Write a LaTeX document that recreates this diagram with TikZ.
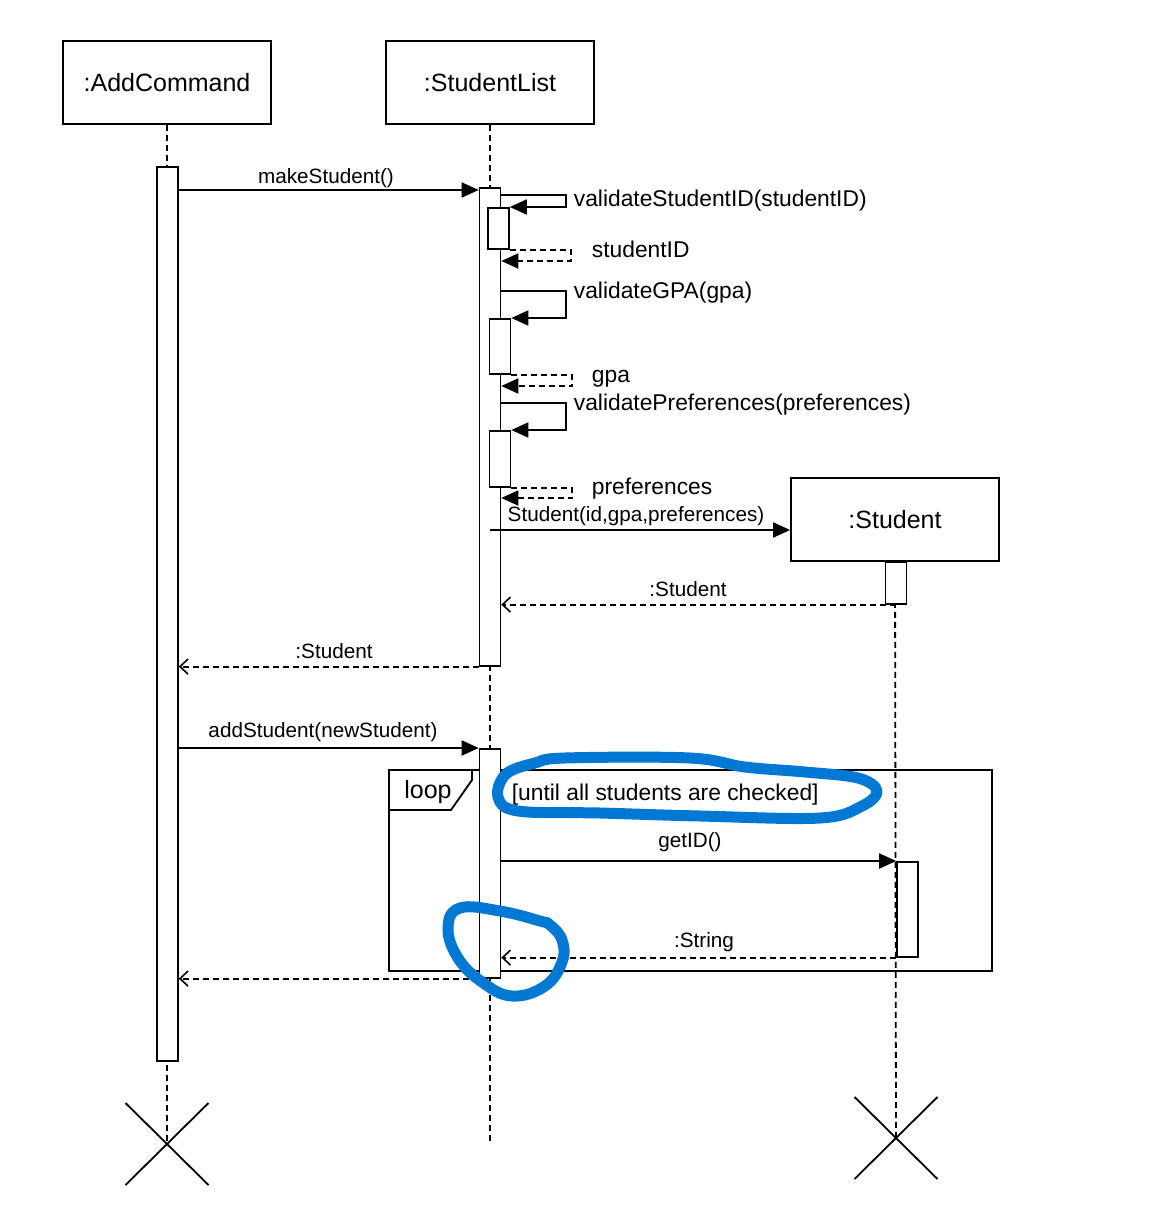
\documentclass[tikz,border=0pt]{standalone}
\usepackage{fontspec}
\setmainfont{Liberation Sans}
\usetikzlibrary{arrows.meta}

\begin{document}
\begin{tikzpicture}[x=1pt, y=-1pt, line width=1.8pt,
    obj/.style={draw, fill=white, minimum width=208pt, minimum height=83pt, inner sep=0pt, font=\fontsize{25}{30}\selectfont},
    act/.style={draw, fill=white, line width=1.6pt, minimum width=21pt, inner sep=0pt, anchor=north},
    life/.style={dash pattern=on 6pt off 4pt},
    call/.style={-{Triangle[length=17pt, width=15pt]}},
    selfret/.style={dash pattern=on 6pt off 4pt, -{Triangle[length=17pt, width=15pt]}},
    ret/.style={dash pattern=on 6pt off 4pt, -{Straight Barb[length=8pt, width=15pt, line width=1.6pt]}},
    msg/.style={anchor=base, inner sep=0pt, font=\fontsize{20.7}{24}\selectfont},
    selfmsg/.style={anchor=base west, inner sep=0pt, font=\fontsize{22.8}{26}\selectfont},
    scribble/.style={line width=11pt, color={rgb,255:red,0;green,120;blue,212}, line cap=round, line join=round}]
    % page
    \fill[white] (0,0) rectangle (1172,1225);
    \useasboundingbox (0,0) rectangle (1172,1225);
    % objects
    \node[obj] (addcmd) at (167,82.5) {:AddCommand};
    \node[obj] (stlist) at (490,82.5) {:StudentList};
    \node[obj] (stud) at (895,519.5) {:Student};
    % lifeline ends
    \coordinate (addend) at (167,1144);
    \coordinate (listend) at (490,1142);
    \coordinate (studend) at (896,1138);
    % lifelines
    \draw[life] (addcmd.south) -- (addend);
    \draw[life] (stlist.south) -- (listend);
    \draw[life] (stud.south) -- (studend);
    % destruction marks
    \draw (addend) ++(-41.5,-41) -- ++(83,82);
    \draw (addend) ++(41.5,-41) -- ++(-83,82);
    \draw (studend) ++(-41.5,-41) -- ++(83,82);
    \draw (studend) ++(41.5,-41) -- ++(-83,82);
    % loop frame
    \node[draw, minimum width=603pt, minimum height=201pt, inner sep=0pt, anchor=north west] (loopfr) at (388,769) {};
    \draw (loopfr.north west) ++(0,41) -- ++(63,0) -- ++(21,-30) -- ++(0,-11);
    \node[anchor=base, inner sep=0pt, font=\fontsize{25}{30}\selectfont] (looplbl) at (428,798) {loop};
    \node[selfmsg] (guard) at (511,800) {[until all students are checked]};
    % activations
    \node[act, minimum height=894pt] (actA) at (167.5,166) {};
    \node[act, minimum height=478pt] (actL1) at (490,187) {};
    \node[act, minimum height=41pt] (nest1) at (498.5,207) {};
    \node[act, minimum height=55pt] (nest2) at (500,318) {};
    \node[act, minimum height=56pt] (nest3) at (500,430) {};
    \node[act, minimum height=42pt] (actS1) at (896,561) {};
    \node[act, minimum height=229pt] (actL2) at (490,748) {};
    \node[act, minimum height=95pt] (actS2) at (907.5,861) {};
    % calls
    \draw[call] (actA.east |- 0,190) -- (actL1.west |- 0,190);
    \draw[call] (actL1.center |- 0,530) -- (stud.west |- 0,530);
    \draw[call] (actA.east |- 0,748) -- (actL2.west |- 0,748);
    \draw[call] (actL2.east |- 0,861) -- (actS2.north west);
    % self calls
    \draw[call] (actL1.east |- 0,195) -- ++(65,0) |- (nest1.east |- 0,207);
    \draw[call] (actL1.east |- 0,291) -- ++(65,0) |- (nest2.north east);
    \draw[call] (actL1.east |- 0,403) -- ++(65,0) |- (nest3.north east);
    % self returns
    \draw[selfret] (nest1.south east) -- ++(61,0) |- (actL1.east |- 0,261);
    \draw[selfret] (nest2.south east) -- ++(61,0) |- (actL1.east |- 0,386);
    \draw[selfret] (nest3.south east) -- ++(61,0) |- (actL1.east |- 0,498);
    % returns
    \draw[ret] (actS1.south) -- (actL1.east |- actS1.south);
    \draw[ret] (actL1.south west) -- (actA.east |- actL1.south);
    \draw[ret] (actS2.south west) -- (actL2.east |- actS2.south);
    \draw[ret] (actL2.south west) -- (actA.east |- actL2.south);
    % message labels
    \node[msg] (lmake) at (326,184) {makeStudent()};
    \node[selfmsg] (lvalid) at (573,207) {validateStudentID(studentID)};
    \node[selfmsg] (lid) at (591,257) {studentID};
    \node[selfmsg] (lvgpa) at (573,298) {validateGPA(gpa)};
    \node[selfmsg] (lgpa) at (591,382) {gpa};
    \node[selfmsg] (lvpref) at (573,410) {validatePreferences(preferences)};
    \node[selfmsg] (lpref) at (591,494) {preferences};
    \node[msg] (lnew) at (636,521) {Student(id,gpa,preferences)};
    \node[msg] (lstud1) at (688,596) {:Student};
    \node[msg] (lstud2) at (334,658) {:Student};
    \node[msg] (ladd) at (323,737) {addStudent(newStudent)};
    \node[msg] (lget) at (690,847) {getID()};
    \node[msg] (lstr) at (704,947) {:String};
    % hand-drawn marks
    \draw[scribble] plot[smooth cycle, tension=0.6] coordinates {(565,758) (690,758) (745,767) (805,772) (858,778) (877,791) (862,806) (820,818) (700,816) (600,813) (518,811) (498,797) (506,774) (535,763)};
    \draw[scribble] plot[smooth cycle, tension=0.7] coordinates {(540,921) (500,911) (460,908) (448,928) (458,958) (482,982) (512,996) (545,986) (562,962) (562,940) (550,925)};
\end{tikzpicture}
\end{document}
